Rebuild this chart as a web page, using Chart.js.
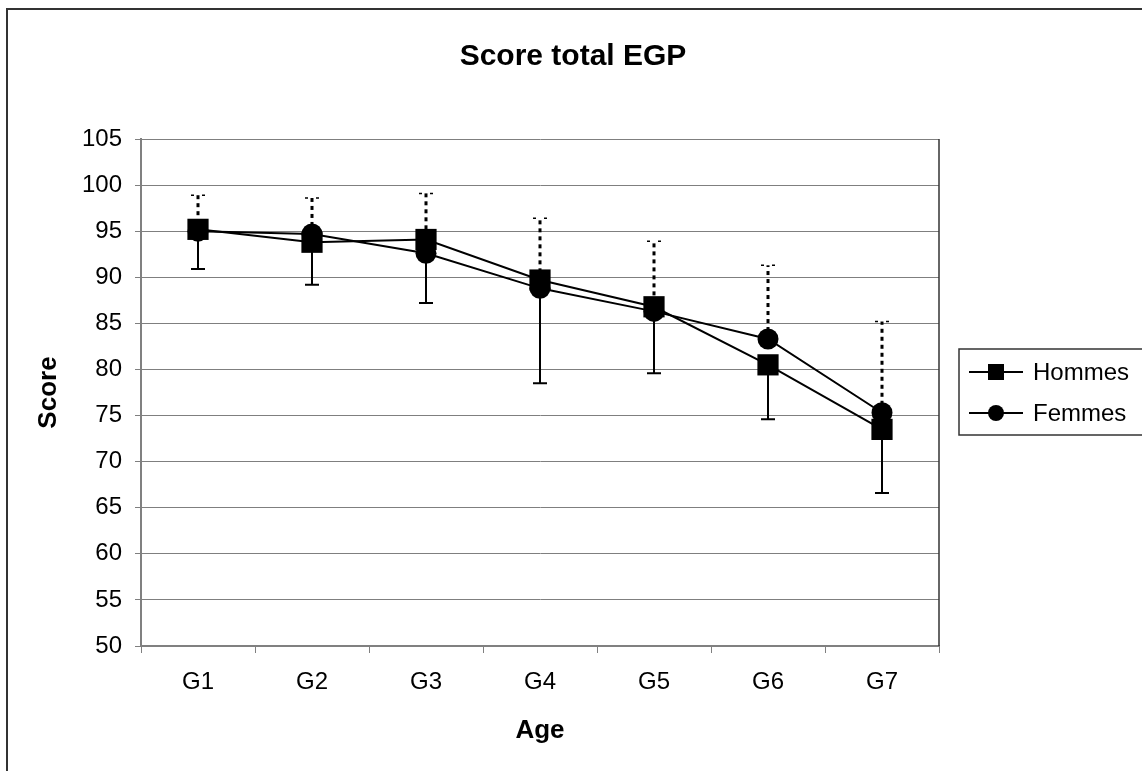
<!DOCTYPE html>
<html>
<head>
<meta charset="utf-8">
<script src="https://cdn.jsdelivr.net/npm/chart.js@4.4.0/dist/chart.umd.min.js"></script>
<style>
html, body { margin: 0; padding: 0; background: #fff; }
#wrap { position: relative; width: 1142px; height: 771px; overflow: hidden; }
#cadre { position: absolute; left: 6px; top: 8px; width: 1300px; height: 900px; border-left: 2px solid #333; border-top: 2px solid #333; }
#graph { position: absolute; left: 0; top: 0; }
</style>
</head>
<body>
<div id="wrap">
  <div id="cadre"></div>
  <canvas id="graph" width="1142" height="771"></canvas>
</div>
<script>
const ages = ["G1", "G2", "G3", "G4", "G5", "G6", "G7"]
const hommes = [95.2, 93.8, 94.1, 89.7, 86.8, 80.5, 73.5]
const femmes = [95.0, 94.7, 92.6, 88.8, 86.3, 83.3, 75.3]
// bout des barres d'erreur (bas pour les hommes, haut pour les femmes)
const hommesBas = [90.9, 89.2, 87.2, 78.5, 79.6, 74.6, 66.6]
const femmesHaut = [98.9, 98.6, 99.1, 96.4, 93.9, 91.3, 85.2]

const police = "'Liberation Sans', Arial, sans-serif"

const barresErreur = {
    id: "barresErreur",
    beforeDatasetsDraw(chart) {
        const ctx = chart.ctx
        const x = chart.scales.x
        const y = chart.scales.y
        ctx.save()
        ctx.strokeStyle = "#000"
        ages.forEach((a, i) => {
            const px = x.getPixelForValue(i)
            // hommes : trait plein vers le bas
            ctx.setLineDash([])
            ctx.lineWidth = 2
            ctx.beginPath()
            ctx.moveTo(px, y.getPixelForValue(hommes[i]))
            ctx.lineTo(px, y.getPixelForValue(hommesBas[i]))
            ctx.moveTo(px - 7, y.getPixelForValue(hommesBas[i]))
            ctx.lineTo(px + 7, y.getPixelForValue(hommesBas[i]))
            ctx.stroke()
            // femmes : pointillés vers le haut
            ctx.lineWidth = 3
            ctx.setLineDash([4, 4])
            ctx.beginPath()
            ctx.moveTo(px, y.getPixelForValue(femmes[i]))
            ctx.lineTo(px, y.getPixelForValue(femmesHaut[i]))
            ctx.stroke()
            ctx.lineWidth = 1.5
            ctx.setLineDash([3, 8])
            ctx.beginPath()
            ctx.moveTo(px - 7, y.getPixelForValue(femmesHaut[i]))
            ctx.lineTo(px + 8, y.getPixelForValue(femmesHaut[i]))
            ctx.stroke()
        })
        ctx.restore()
    }
}

const decor = {
    id: "decor",
    afterDraw(chart) {
        const ctx = chart.ctx
        const area = chart.chartArea
        ctx.save()
        // bord droit de la zone de traçage
        ctx.strokeStyle = "#333"
        ctx.lineWidth = 1.5
        ctx.beginPath()
        ctx.moveTo(area.right, area.top)
        ctx.lineTo(area.right, area.bottom)
        ctx.stroke()

        // titre
        ctx.fillStyle = "#000"
        ctx.font = "bold 30px " + police
        ctx.textAlign = "center"
        ctx.textBaseline = "alphabetic"
        ctx.fillText("Score total EGP", chart.width / 2 + 2, 65)

        // légende
        ctx.strokeStyle = "#333"
        ctx.lineWidth = 1.5
        ctx.strokeRect(959, 349, 300, 86)
        ctx.font = "24px " + police
        ctx.textAlign = "left"
        ctx.textBaseline = "middle"
        chart.data.datasets.forEach((ds, i) => {
            const ly = 372 + i * 41
            ctx.lineWidth = 2
            ctx.strokeStyle = "#000"
            ctx.beginPath()
            ctx.moveTo(969, ly)
            ctx.lineTo(1023, ly)
            ctx.stroke()
            ctx.fillStyle = "#000"
            if (ds.pointStyle === "rect") {
                ctx.fillRect(988, ly - 8, 16, 16)
            } else {
                ctx.beginPath()
                ctx.arc(996, ly, 8, 0, Math.PI * 2)
                ctx.fill()
            }
            ctx.fillText(ds.label, 1033, ly + 1)
        })
        ctx.restore()
    }
}

new Chart(document.getElementById("graph"), {
    type: "line",
    data: {
        labels: ages,
        datasets: [
            {
                label: "Hommes",
                data: hommes,
                borderColor: "#000",
                backgroundColor: "#000",
                borderWidth: 2,
                pointStyle: "rect",
                pointRadius: 15,
                pointBorderWidth: 0,
                pointHoverRadius: 15
            },
            {
                label: "Femmes",
                data: femmes,
                borderColor: "#000",
                backgroundColor: "#000",
                borderWidth: 2,
                pointStyle: "circle",
                pointRadius: 10.5,
                pointBorderWidth: 0,
                pointHoverRadius: 10.5
            }
        ]
    },
    options: {
        responsive: false,
        animation: false,
        layout: { padding: { left: 0, right: 203, top: 139, bottom: 0 } },
        plugins: {
            legend: { display: false },
            title: { display: false },
            tooltip: { enabled: false }
        },
        scales: {
            x: {
                offset: true,
                afterFit: (s) => { s.height = 125 },
                grid: { offset: true, drawOnChartArea: false, drawTicks: true, tickLength: 7, color: "#808080", lineWidth: 1 },
                border: { display: true, color: "#808080", width: 2 },
                ticks: { color: "#000", font: { family: police, size: 24 }, padding: 15 },
                title: { display: true, text: "Age", color: "#000", font: { family: police, size: 26, weight: "bold" }, padding: { top: 0, bottom: 25 } }
            },
            y: {
                min: 50,
                max: 105,
                afterFit: (s) => { s.width = 141 },
                grid: { color: "#7f7f7f", lineWidth: 1, drawTicks: true, tickLength: 6 },
                border: { display: true, color: "#808080", width: 2 },
                ticks: { stepSize: 5, color: "#000", font: { family: police, size: 24 }, padding: 13 },
                title: { display: true, text: "Score", color: "#000", font: { family: police, size: 26, weight: "bold" }, padding: { top: 33, bottom: 0 } }
            }
        }
    },
    plugins: [barresErreur, decor]
})
</script>
</body>
</html>
